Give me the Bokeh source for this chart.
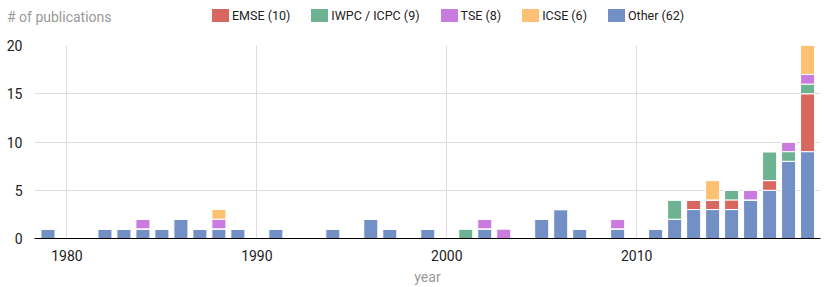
from bokeh.plotting import figure
from bokeh.layouts import column
from bokeh.models import ColumnDataSource, Range1d, FixedTicker, Div
from bokeh.embed import file_html
from bokeh.resources import INLINE

# ---- data ----
years = [1979, 1982, 1983, 1984, 1985, 1986, 1987, 1988, 1989, 1991,
         1994, 1996, 1997, 1999, 2001, 2002, 2003, 2005, 2006, 2007,
         2009, 2011, 2012, 2013, 2014, 2015, 2016, 2017, 2018, 2019]
other = [1, 1, 1, 1, 1, 2, 1, 1, 1, 1,
         1, 2, 1, 1, 0, 1, 0, 2, 3, 1,
         1, 1, 2, 3, 3, 3, 4, 5, 8, 9]
emse = [0, 0, 0, 0, 0, 0, 0, 0, 0, 0,
        0, 0, 0, 0, 0, 0, 0, 0, 0, 0,
        0, 0, 0, 1, 1, 1, 0, 1, 0, 6]
iwpc = [0, 0, 0, 0, 0, 0, 0, 0, 0, 0,
        0, 0, 0, 0, 1, 0, 0, 0, 0, 0,
        0, 0, 2, 0, 0, 1, 0, 3, 1, 1]
tse = [0, 0, 0, 1, 0, 0, 0, 1, 0, 0,
       0, 0, 0, 0, 0, 1, 1, 0, 0, 0,
       1, 0, 0, 0, 0, 0, 1, 0, 1, 1]
icse = [0, 0, 0, 0, 0, 0, 0, 1, 0, 0,
        0, 0, 0, 0, 0, 0, 0, 0, 0, 0,
        0, 0, 0, 0, 2, 0, 0, 0, 0, 3]

series_keys = ["other", "emse", "iwpc", "tse", "icse"]          # stack order (bottom -> top)
series_names = {"emse": "EMSE", "iwpc": "IWPC / ICPC", "tse": "TSE", "icse": "ICSE", "other": "Other"}
legend_order = ["emse", "iwpc", "tse", "icse", "other"]
colors = {"emse": "#d8675f", "iwpc": "#6db392", "tse": "#c97be0", "icse": "#fec072", "other": "#7290c6"}
x_ticks = [1980, 1990, 2000, 2010]
y_ticks = [0, 5, 10, 15, 20]

data = dict(year=years, other=other, emse=emse, iwpc=iwpc, tse=tse, icse=icse)
src = ColumnDataSource(data)
FONT = "Roboto"
W = 830
HEAD_H = 35

# ---- header: y-axis title + legend (HTML text) ----
legend_html = "".join(
    f'<span style="display:inline-block;width:17px;height:13px;background:{colors[k]};'
    f'margin-right:3px;vertical-align:middle;"></span>'
    f'<span style="display:inline-block;margin-right:21px;vertical-align:middle;'
    f'font-size:12.5px;color:#222222;line-height:13px;">{series_names[k]} ({sum(data[k])})</span>'
    for k in legend_order)
head_html = (
    f'<div style="position:relative;width:{W}px;height:{HEAD_H}px;font-family:Roboto;'
    f'white-space:nowrap;">'
    f'<span style="position:absolute;left:7px;top:9px;font-size:14px;line-height:16px;'
    f'color:#999999;">#&nbsp;of publications</span>'
    f'<div style="position:absolute;left:212px;top:9px;height:13px;line-height:13px;'
    f'font-size:0;">{legend_html}</div>'
    f'</div>')
head = Div(text=head_html, width=W, height=HEAD_H, margin=0)

# ---- main chart ----
p = figure(width=W, height=287 - HEAD_H, output_backend="svg", toolbar_location=None,
           x_range=Range1d(1978.29, 2019.68), y_range=Range1d(0, 20),
           min_border_left=34, min_border_right=10, min_border_top=10, min_border_bottom=47)
p.outline_line_color = None

p.vbar_stack(series_keys, x="year", width=0.74, source=src,
             color=[colors[k] for k in series_keys], line_color="white", line_width=1)

p.xaxis.ticker = FixedTicker(ticks=x_ticks)
p.yaxis.ticker = FixedTicker(ticks=y_ticks)
for ax in (p.xaxis[0], p.yaxis[0]):
    ax.major_tick_line_color = None
    ax.minor_tick_line_color = None
    ax.major_label_text_font = FONT
    ax.major_label_text_font_size = "14px"
    ax.major_label_text_color = "#222222"
p.yaxis.axis_line_color = None
p.yaxis.major_label_standoff = 6
p.xaxis.axis_line_color = "#000000"
p.xaxis.major_label_standoff = 5
p.xaxis.axis_label = "year"
p.xaxis.axis_label_text_font = FONT
p.xaxis.axis_label_text_font_size = "14px"
p.xaxis.axis_label_text_font_style = "normal"
p.xaxis.axis_label_text_color = "#999999"
p.xaxis.axis_label_standoff = 5

p.xgrid.grid_line_color = "#dddddd"
p.ygrid.grid_line_color = "#dddddd"

layout = column(head, p, spacing=0)
open("out.html", "w").write(file_html(layout, INLINE))
